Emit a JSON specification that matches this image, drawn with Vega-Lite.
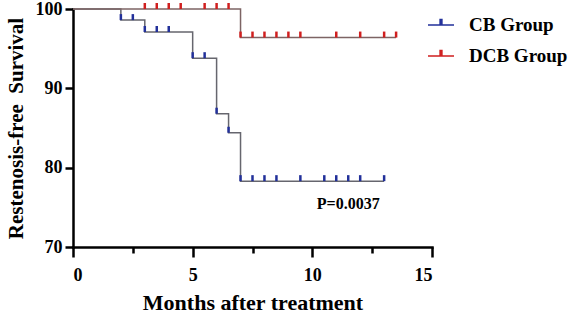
{
  "$schema": "https://vega.github.io/schema/vega-lite/v6.json",
  "width": 359,
  "height": 238,
  "autosize": "none",
  "padding": {"left": 73, "top": 9, "right": 138, "bottom": 66},
  "background": "white",
  "config": {
    "view": {"stroke": null},
    "font": "Liberation Serif",
    "axis": {
      "labelFont": "Liberation Serif",
      "labelFontWeight": "bold",
      "labelFontSize": 18,
      "labelColor": "black",
      "titleFont": "Liberation Serif",
      "titleFontWeight": "bold",
      "titleColor": "black",
      "domainColor": "black",
      "domainWidth": 2.5,
      "tickColor": "black",
      "tickWidth": 2.5,
      "grid": false,
      "domainCap": "square"
    }
  },
  "datasets": {
    "curves": [
      {"group": "CB Group", "month": 0, "survival": 100},
      {"group": "CB Group", "month": 2, "survival": 98.6},
      {"group": "CB Group", "month": 3, "survival": 97.1},
      {"group": "CB Group", "month": 5, "survival": 93.8},
      {"group": "CB Group", "month": 6, "survival": 86.8},
      {"group": "CB Group", "month": 6.5, "survival": 84.4},
      {"group": "CB Group", "month": 7, "survival": 78.3},
      {"group": "CB Group", "month": 13, "survival": 78.3},
      {"group": "DCB Group", "month": 0, "survival": 100},
      {"group": "DCB Group", "month": 7, "survival": 96.4},
      {"group": "DCB Group", "month": 13.5, "survival": 96.4}
    ],
    "censored": [
      {"group": "CB Group", "month": 2, "survival": 98.6},
      {"group": "CB Group", "month": 2.5, "survival": 98.6},
      {"group": "CB Group", "month": 3, "survival": 97.1},
      {"group": "CB Group", "month": 3.5, "survival": 97.1},
      {"group": "CB Group", "month": 4, "survival": 97.1},
      {"group": "CB Group", "month": 5, "survival": 93.8},
      {"group": "CB Group", "month": 5.5, "survival": 93.8},
      {"group": "CB Group", "month": 6, "survival": 86.8},
      {"group": "CB Group", "month": 6.5, "survival": 84.4},
      {"group": "CB Group", "month": 7, "survival": 78.3},
      {"group": "CB Group", "month": 7.5, "survival": 78.3},
      {"group": "CB Group", "month": 8, "survival": 78.3},
      {"group": "CB Group", "month": 8.5, "survival": 78.3},
      {"group": "CB Group", "month": 9.5, "survival": 78.3},
      {"group": "CB Group", "month": 10.5, "survival": 78.3},
      {"group": "CB Group", "month": 11, "survival": 78.3},
      {"group": "CB Group", "month": 11.5, "survival": 78.3},
      {"group": "CB Group", "month": 12, "survival": 78.3},
      {"group": "CB Group", "month": 13, "survival": 78.3},
      {"group": "DCB Group", "month": 3, "survival": 100},
      {"group": "DCB Group", "month": 3.5, "survival": 100},
      {"group": "DCB Group", "month": 4, "survival": 100},
      {"group": "DCB Group", "month": 4.5, "survival": 100},
      {"group": "DCB Group", "month": 5.5, "survival": 100},
      {"group": "DCB Group", "month": 6, "survival": 100},
      {"group": "DCB Group", "month": 6.5, "survival": 100},
      {"group": "DCB Group", "month": 7, "survival": 96.4},
      {"group": "DCB Group", "month": 7.5, "survival": 96.4},
      {"group": "DCB Group", "month": 8, "survival": 96.4},
      {"group": "DCB Group", "month": 8.5, "survival": 96.4},
      {"group": "DCB Group", "month": 9, "survival": 96.4},
      {"group": "DCB Group", "month": 9.5, "survival": 96.4},
      {"group": "DCB Group", "month": 11, "survival": 96.4},
      {"group": "DCB Group", "month": 12, "survival": 96.4},
      {"group": "DCB Group", "month": 13, "survival": 96.4},
      {"group": "DCB Group", "month": 13.5, "survival": 96.4}
    ],
    "annotation": [
      {"month": 11.5, "survival": 74.8, "label": "P=0.0037"}
    ]
  },
  "layer": [
    {
      "data": {"name": "curves"},
      "mark": {"type": "line", "interpolate": "step-after", "strokeWidth": 1.5, "clip": false},
      "encoding": {
        "x": {
          "field": "month",
          "type": "quantitative",
          "scale": {"domain": [0, 15], "nice": false},
          "axis": {
            "values": [0, 2.5, 5, 7.5, 10, 12.5, 15],
            "labelExpr": "datum.value % 5 === 0 ? datum.label : ''",
            "tickSize": {"condition": {"test": "datum.value % 5 === 0", "value": 10}, "value": 6},
            "labelPadding": 9,
            "labelBaseline": "top",
            "title": "Months after treatment",
            "titleFontSize": 22,
            "titleX": 179.5,
            "titleY": 62,
            "titleAlign": "center",
            "titleBaseline": "alphabetic"
          }
        },
        "y": {
          "field": "survival",
          "type": "quantitative",
          "scale": {"domain": [70, 100], "nice": false, "zero": false},
          "axis": {
            "values": [70, 75, 80, 85, 90, 95, 100],
            "labelExpr": "datum.value % 10 === 0 ? datum.label : ''",
            "tickSize": {"condition": {"test": "datum.value % 10 === 0", "value": 8}, "value": 4},
            "labelPadding": 3,
            "title": "Restenosis-free\u00a0 Survival",
            "titleFontSize": 21,
            "titleX": -51,
            "titleY": 119,
            "titleAngle": -90,
            "titleAlign": "center",
            "titleBaseline": "alphabetic"
          }
        },
        "detail": {"field": "group"},
        "stroke": {
          "condition": {"test": "datum.group === 'CB Group'", "value": "#66666e"},
          "value": "#7d6464"
        }
      }
    },
    {
      "data": {"name": "censored"},
      "mark": {"type": "tick", "orient": "vertical", "size": 6, "thickness": 2.5, "yOffset": -3, "opacity": 1, "clip": false},
      "encoding": {
        "x": {"field": "month", "type": "quantitative"},
        "y": {"field": "survival", "type": "quantitative"},
        "color": {
          "field": "group",
          "type": "nominal",
          "scale": {"domain": ["CB Group", "DCB Group"], "range": ["#22309a", "#d01f1f"]},
          "legend": {
            "title": null,
            "orient": "none",
            "legendX": 354,
            "legendY": 2,
            "padding": 0,
            "symbolType": "M-1,0H1M-0.07,0V-0.42H0.07V0Z",
            "symbolSize": 676,
            "symbolStrokeWidth": 1.5,
            "symbolOpacity": 1,
            "labelFont": "Liberation Serif",
            "labelFontWeight": "bold",
            "labelFontSize": 19,
            "labelColor": "black",
            "labelOffset": 14,
            "rowPadding": 7,
            "encode": {
              "symbols": {
                "update": {
                  "stroke": {"scale": "color", "field": "value"},
                  "fill": {"scale": "color", "field": "value"},
                  "strokeWidth": {"value": 1.5}
                }
              }
            }
          }
        }
      }
    },
    {
      "data": {"name": "annotation"},
      "mark": {"type": "text", "font": "Liberation Serif", "fontWeight": "bold", "fontSize": 16, "align": "center", "baseline": "alphabetic", "color": "black"},
      "encoding": {
        "x": {"field": "month", "type": "quantitative"},
        "y": {"field": "survival", "type": "quantitative"},
        "text": {"field": "label"}
      }
    }
  ]
}
